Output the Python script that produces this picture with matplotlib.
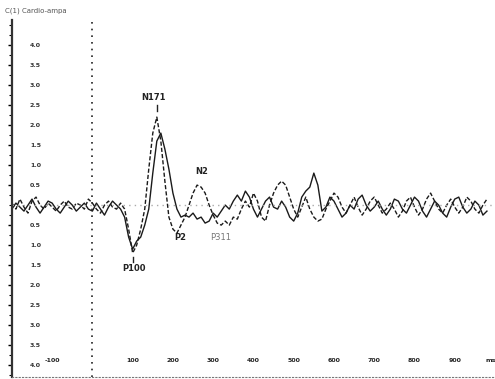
import numpy as np
import matplotlib
matplotlib.use("Agg")
import matplotlib.pyplot as plt

# time axis (ms), 10 ms steps
times = list(range(-200, 1001, 10))

# trace 1 (dashed), microvolts, negative plotted up
trace_dashed = [
    -0.05, 0.1, -0.15, 0.05, 0.2, -0.1, -0.2, 0.0, 0.1, -0.05,
    0.05, 0.15, 0.0, -0.1, 0.05, 0.1, -0.05, 0.0, 0.1, -0.15,
    -0.05, 0.1, 0.2, 0.0, -0.1, 0.05, 0.1, -0.05,
    0.1, 0.6, 1.2, 1.0, 0.6, 0.1, -0.9, -1.8, -2.2, -1.6,
    -0.6, 0.3, 0.6, 0.7, 0.5, 0.3, 0.0, -0.3, -0.5, -0.45,
    -0.3, 0.0, 0.25, 0.45, 0.5, 0.4, 0.5, 0.3, 0.35, 0.1,
    -0.1, 0.05, -0.3, -0.1, 0.3, 0.4, 0.0, -0.3, -0.5, -0.6,
    -0.5, -0.2, 0.1, 0.3, 0.05, -0.2, 0.1, 0.3, 0.4, 0.35,
    0.1, -0.1, -0.3, -0.2, 0.05, 0.2, 0.0, -0.2, 0.05, 0.25,
    0.1, -0.1, -0.2, 0.0, 0.2, 0.1, -0.05, 0.1, 0.3, 0.15,
    -0.1, -0.2, 0.05, 0.25, 0.1, -0.15, -0.3, -0.1, 0.1, 0.2,
    0.0, -0.15, 0.05, 0.2, 0.05, -0.2, -0.1, 0.1, 0.2, 0.0,
    -0.15,
]
# trace 2 (solid)
trace_solid = [
    0.1, -0.05, 0.05, 0.15, 0.0, -0.15, 0.05, 0.2, 0.05, -0.1,
    -0.05, 0.1, 0.2, 0.05, -0.1, 0.0, 0.15, 0.05, -0.05, 0.1,
    0.15, -0.05, 0.1, 0.25, 0.05, -0.1, 0.0, 0.1,
    0.3, 0.8, 1.1, 0.9, 0.8, 0.5, 0.1, -0.8, -1.6, -1.8,
    -1.4, -0.9, -0.3, 0.1, 0.3, 0.25, 0.3, 0.2, 0.35, 0.3,
    0.45, 0.4, 0.2, 0.3, 0.15, 0.0, 0.1, -0.1, -0.25, -0.1,
    -0.35, -0.2, 0.1, 0.3, 0.1, -0.1, -0.2, 0.05, 0.1, -0.1,
    0.05, 0.3, 0.4, 0.2, -0.2, -0.35, -0.45, -0.8, -0.5, 0.15,
    0.05, -0.2, -0.1, 0.1, 0.3, 0.2, 0.0, 0.1, -0.15, -0.25,
    0.0, 0.15, 0.05, -0.1, 0.1, 0.25, 0.1, -0.15, -0.1, 0.1,
    0.2, 0.0, -0.2, -0.1, 0.15, 0.3, 0.1, -0.1, 0.0, 0.2,
    0.3, 0.05, -0.15, -0.2, 0.05, 0.2, 0.1, -0.1, 0.0, 0.25,
    0.15,
]

xtick_vals = [-100, 100, 200, 300, 400, 500, 600, 700, 800, 900, 990]
xtick_labels = ['-100', '100', '200', '300', '400', '500', '600', '700', '800', '900', 'ms']
ytick_vals = [-4.0, -3.5, -3.0, -2.5, -2.0, -1.5, -1.0, -0.5,
              0.5, 1.0, 1.5, 2.0, 2.5, 3.0, 3.5, 4.0]

# peak labels: (text, time, value)
peaks = [('N171', 153, -2.7), ('P100', 104, 1.58), ('N2', 272, -0.83),
         ('P2', 217, 0.8), ('P311', 318, 0.8)]

n = min(len(times), len(trace_dashed), len(trace_solid))

fig = plt.figure(figsize=(4.95, 3.79), dpi=100)
ax = fig.add_axes([0.024, 0.005, 0.976, 0.942])

ax.plot(times[:n], trace_solid[:n], color='#1a1a1a', lw=1.0)
ax.plot(times[:n], trace_dashed[:n], color='#1a1a1a', lw=1.0, ls=(0, (3, 1.5)))

ax.axhline(0, color='#aaaaaa', lw=1.0, ls=(0, (1, 3)))
ax.axvline(0, color='#222222', lw=1.2, ls=(0, (1, 3)))

ax.set_xlim(-200, 1000)
ax.set_ylim(4.3, -4.625)

for s in ['top', 'right']:
    ax.spines[s].set_visible(False)
ax.spines['left'].set_linewidth(1.6)
ax.spines['left'].set_color('#333333')
ax.spines['bottom'].set_linestyle((0, (1, 2)))
ax.spines['bottom'].set_color('#777777')

ax.set_yticks(ytick_vals)
ax.set_yticklabels([('%.1f' % abs(v)) for v in ytick_vals])
ax.set_yticks(np.arange(-4.5, 4.3, 0.25), minor=True)
ax.tick_params(axis='y', which='major', direction='out', length=3, width=1,
               pad=-16, labelsize=4.5, labelcolor='#333333')
ax.tick_params(axis='y', which='minor', direction='out', length=2, width=0.8)
for lab in ax.get_yticklabels():
    lab.set_horizontalalignment('left')
    lab.set_fontweight('bold')

ax.set_xticks(xtick_vals)
ax.set_xticklabels(xtick_labels)
ax.tick_params(axis='x', length=0, pad=-14, labelsize=4.5, labelcolor='#222222')
for lab in ax.get_xticklabels():
    lab.set_fontweight('bold')

fig.text(0.01, 0.972, 'C(1) Cardio-ampa', fontsize=5, color='#555555',
         ha='left', va='center')

for txt, t, v in peaks:
    col = '#777777' if txt == 'P311' else '#222222'
    ax.text(t, v, txt, fontsize=6, ha='center', va='center', color=col,
            fontweight='bold' if txt != 'P311' else 'normal')
ax.plot([160, 160], [-2.35, -2.5], color='#222222', lw=1)
ax.plot([100, 100], [1.3, 1.42], color='#222222', lw=1)

fig.savefig('out.png', dpi=100)
